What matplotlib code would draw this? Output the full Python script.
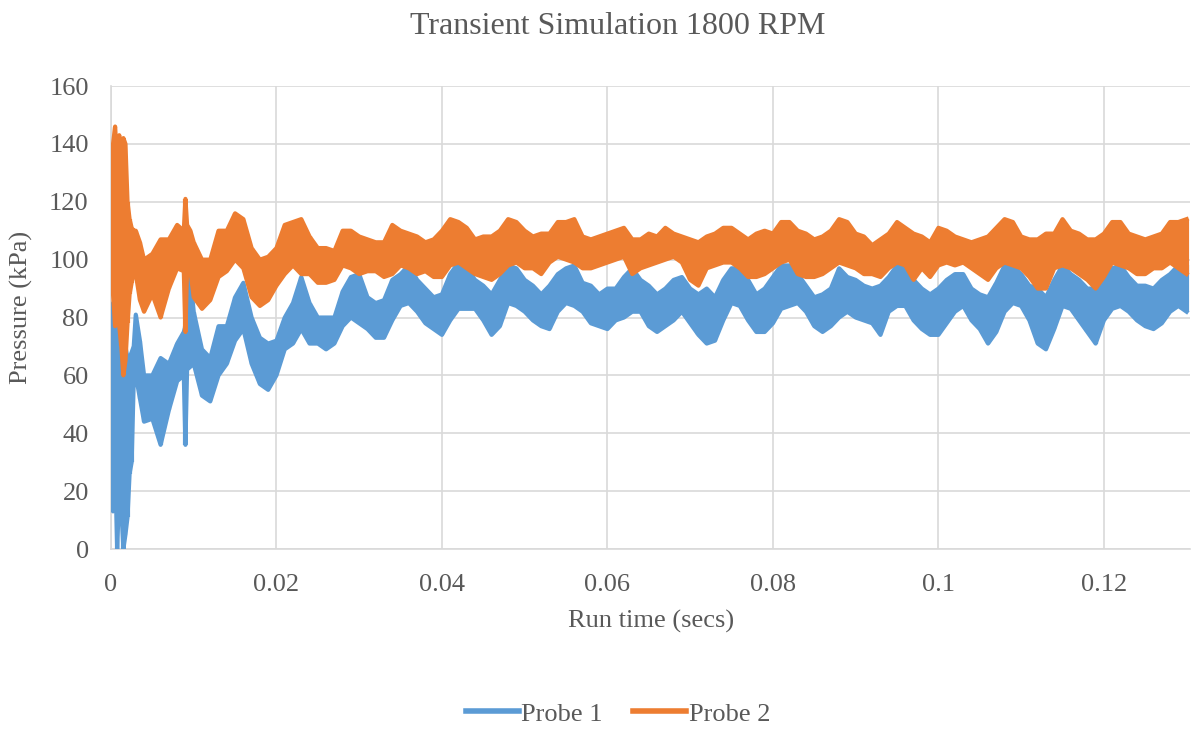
import matplotlib
matplotlib.use("Agg")
import matplotlib.pyplot as plt
from matplotlib.lines import Line2D
from matplotlib.ticker import FuncFormatter, MultipleLocator
import numpy as np

plt.rcParams['font.family'] = ['Liberation Serif', 'DejaVu Serif']

# sample times in ms (dense at start where the signal is wild)
t_early = [0, 0.25, 0.5, 0.75, 1.0, 1.25, 1.5, 1.75, 2.0, 2.25, 2.5, 2.75,
           3.0, 3.5, 4, 5, 6, 7, 8, 8.8, 9.0, 9.2, 9.6, 10]
t_ms = t_early + list(range(11, 131))

# Probe 1 (blue) upper / lower envelope, kPa
p1_hi = [76, 85, 83, 82, 78, 76, 70, 70, 66, 66, 68, 70,
         81, 72, 60, 60, 66, 64, 71, 75, 77, 76, 94, 82,
         69, 66, 77, 77, 87, 92, 80, 73, 71, 72,
         80, 85, 94, 85, 80, 80, 80, 89, 94, 95,
         87, 85, 86, 93, 95, 98, 93, 90, 87, 88,
         95, 99, 97, 93, 91, 88, 93, 98, 97, 93,
         91, 88, 91, 95, 97, 98, 92, 91, 88, 90,
         90, 94, 97, 93, 91, 88, 90, 93, 94, 90,
         88, 90, 87, 93, 97, 97, 93, 88, 90, 94,
         98, 98, 95, 91, 87, 88, 90, 97, 94, 93,
         91, 90, 91, 94, 98, 99, 93, 90, 88, 90,
         93, 95, 95, 90, 88, 87, 92, 98, 98, 95,
         91, 90, 87, 93, 98, 95, 93, 90, 90, 93,
         97, 98, 94, 91, 91, 90, 93, 95, 98, 98]
p1_lo = [32, 13, 30, 0, 20, 14, 0, 5, 11, 26, 30, 58,
         60, 52, 44, 45, 36, 48, 58, 60, 36, 62, 63, 64,
         53, 51, 60, 64, 72, 76, 64, 57, 55, 60,
         69, 71, 76, 71, 71, 69, 71, 77, 80, 78,
         76, 73, 73, 79, 84, 85, 82, 78, 76, 74,
         79, 83, 83, 83, 79, 74, 77, 85, 84, 82,
         79, 77, 76, 82, 85, 84, 82, 78, 77, 76,
         79, 80, 82, 82, 77, 75, 77, 79, 82, 78,
         74, 71, 72, 79, 85, 84, 79, 75, 75, 78,
         83, 84, 85, 82, 77, 75, 77, 80, 82, 80,
         79, 78, 74, 82, 84, 84, 79, 76, 74, 74,
         78, 82, 84, 79, 76, 71, 75, 82, 85, 84,
         79, 71, 69, 76, 84, 83, 79, 75, 71, 79,
         83, 84, 82, 79, 77, 76, 78, 82, 84, 82]

# Probe 2 (orange) upper / lower envelope, kPa
p2_hi = [128, 140, 146, 132, 143, 125, 142, 140, 120, 114, 111, 110,
         110, 106, 100, 102, 107, 107, 112, 110, 121, 112, 110, 106,
         100, 100, 110, 110, 116, 114, 104, 100, 101, 104,
         112, 113, 114, 108, 104, 104, 103, 110, 110, 108,
         107, 106, 106, 112, 110, 109, 108, 106, 107, 110,
         114, 113, 111, 107, 108, 108, 110, 114, 113, 110,
         108, 109, 109, 113, 113, 114, 108, 107, 108, 109,
         110, 111, 107, 107, 109, 108, 111, 109, 108, 107,
         106, 108, 109, 111, 111, 109, 107, 109, 110, 109,
         113, 113, 110, 109, 107, 108, 110, 114, 113, 109,
         108, 105, 107, 109, 113, 111, 109, 108, 106, 111,
         110, 108, 107, 106, 107, 108, 111, 114, 113, 108,
         107, 107, 109, 109, 114, 110, 109, 107, 107, 109,
         113, 113, 109, 108, 107, 108, 109, 113, 113, 114]
p2_lo = [100, 88, 77, 80, 77, 70, 60, 65, 78, 88, 92, 96,
         95, 86, 82, 88, 80, 90, 97, 96, 75, 97, 96, 87,
         83, 86, 94, 96, 100, 97, 87, 84, 86, 91,
         95, 98, 95, 95, 92, 92, 93, 98, 97, 95,
         96, 96, 94, 95, 98, 97, 95, 96, 94, 94,
         98, 99, 97, 95, 94, 93, 95, 98, 99, 97,
         97, 95, 99, 101, 100, 99, 97, 97, 98, 99,
         100, 101, 95, 97, 98, 99, 100, 101, 99, 93,
         91, 97, 98, 99, 99, 97, 94, 94, 95, 97,
         99, 100, 95, 94, 94, 95, 97, 99, 98, 97,
         95, 95, 94, 97, 99, 98, 93, 97, 94, 98,
         99, 98, 99, 97, 95, 93, 97, 99, 98, 97,
         94, 90, 90, 97, 98, 97, 95, 93, 90, 94,
         99, 98, 97, 95, 95, 97, 97, 99, 97, 95]

blue = '#5B9BD5'
orange = '#ED7D31'
txt = '#595959'
grid = '#D9D9D9'

t = np.array(t_ms) / 1000.0

fig = plt.figure(figsize=(12.01, 7.29), dpi=100)
ax = fig.add_axes([0.0924, 0.2469, 0.8984, 0.6351])

for hi, lo, c in [(p1_hi, p1_lo, blue), (p2_hi, p2_lo, orange)]:
    ax.fill_between(t, lo, hi, color=c, lw=0, zorder=3)
    ax.plot(t, hi, color=c, lw=3, zorder=3, solid_joinstyle='round')
    ax.plot(t, lo, color=c, lw=3, zorder=3, solid_joinstyle='round')
    ax.vlines(t, lo, hi, color=c, lw=3, zorder=3)

ax.set_xlim(0, 0.1304)
ax.set_ylim(0, 160)
ax.xaxis.set_major_locator(MultipleLocator(0.02))
ax.yaxis.set_major_locator(MultipleLocator(20))
ax.xaxis.set_major_formatter(FuncFormatter(lambda v, p: '%g' % round(v, 4)))
ax.grid(True, color=grid, lw=1.2, zorder=0)
ax.set_axisbelow(True)
for s in ['top', 'right']:
    ax.spines[s].set_visible(False)
for s in ['left', 'bottom']:
    ax.spines[s].set_color(grid)
    ax.spines[s].set_linewidth(1.2)
ax.tick_params(length=0, labelsize=19, colors=txt)
ax.tick_params(axis='y', pad=16)
ax.tick_params(axis='x', pad=18)

fig.text(0.542, 0.148, 'Run time (secs)', fontsize=19, color=txt,
         ha='center', va='center')
fig.text(0.018, 0.5787, 'Pressure (kPa)', fontsize=19, color=txt,
         ha='center', va='center', rotation=90)
fig.text(0.5146, 0.963, 'Transient Simulation 1800 RPM', fontsize=23,
         color=txt, ha='center', va='center')

handles = [Line2D([], [], color=blue, lw=4), Line2D([], [], color=orange, lw=4)]
fig.legend(handles, ['Probe 1', 'Probe 2'], loc='center', ncol=2,
           bbox_to_anchor=(0.5146, 0.0206), frameon=False, fontsize=19,
           labelcolor=txt, handlelength=2.0, handletextpad=0.1,
           columnspacing=1.15, borderpad=0)

fig.savefig('out.png', dpi=100)
